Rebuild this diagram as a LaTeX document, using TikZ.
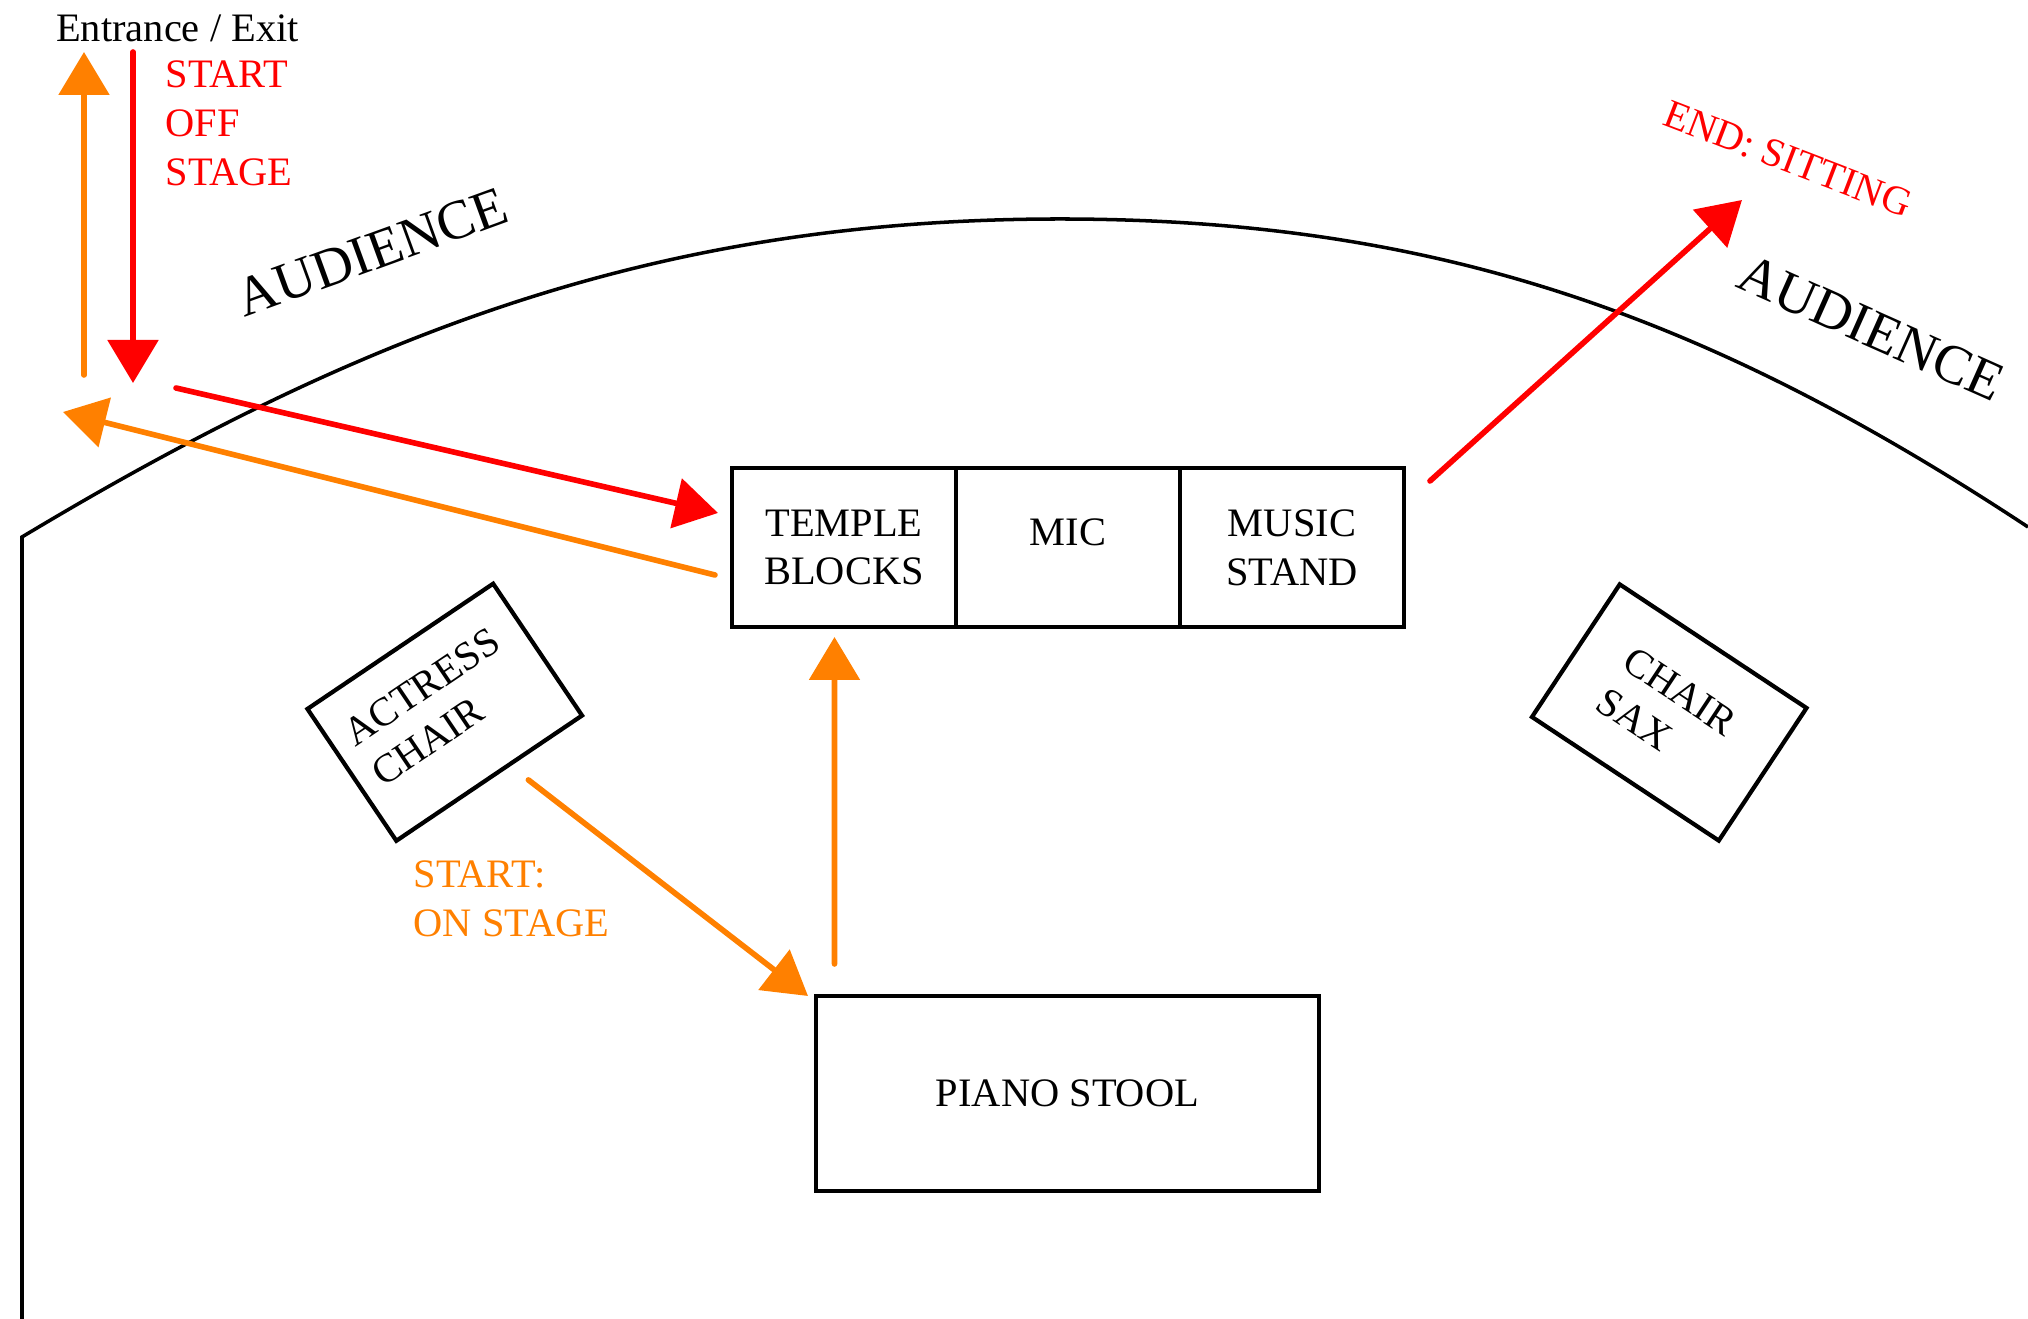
\documentclass[tikz,border=0pt]{standalone}
\usepackage{fontspec}
\setmainfont{Liberation Serif}
\usetikzlibrary{arrows.meta,positioning}
\definecolor{exitred}{RGB}{255,0,0}
\definecolor{stageorange}{RGB}{255,128,0}

\begin{document}
\begin{tikzpicture}[
  txt/.style={font=\fontsize{11.5}{13.9}\selectfont, inner sep=0pt},
  bigtxt/.style={font=\fontsize{15.8}{18}\selectfont, inner sep=0pt},
  stagebox/.style={txt, draw, line width=1.2pt, outer sep=0pt, minimum width=2.24cm, minimum height=1.59cm, align=center},
  chairbox/.style={draw, line width=1.2pt, minimum width=2.24cm, minimum height=1.59cm},
  redarrow/.style={exitred, line width=1.6pt, line cap=round, -{Triangle[length=0.43cm,width=0.5cm]}},
  orangearrow/.style={stageorange, line width=1.6pt, line cap=round, -{Triangle[length=0.43cm,width=0.5cm]}}
]
\useasboundingbox (0,0) rectangle (20.28,13.19);

% stage edge
\draw[line width=1pt] (0.22,-0.1) -- (0.22,7.82)
  .. controls (3.65,9.88) and (6.60,11.00) .. (10.60,11.00)
  .. controls (14.40,11.00) and (17.11,10.01) .. (20.28,7.92);

\node[bigtxt, rotate=20] (audleft) at (3.72,10.67) {AUDIENCE};
\node[bigtxt, rotate=-24] (audright) at (18.71,9.91) {AUDIENCE};

% props
\node[stagebox] (temple) at (8.44,7.715) {TEMPLE\\BLOCKS};
\node[stagebox, right=0pt of temple, text depth=8.6pt] (mic) {MIC};
\node[stagebox, right=0pt of mic] (stand) {MUSIC\\STAND};
\node[stagebox, minimum width=5.03cm, minimum height=1.95cm] (piano) at (10.675,2.255) {PIANO STOOL};

\node[chairbox, rotate=34] (actress) at (4.4475,6.0675) {};
\node[txt, rotate=34, anchor=north west, align=left, inner xsep=0.2cm, inner ysep=0.335cm] (actresslbl) at (actress.north west) {ACTRESS\\CHAIR};
\node[chairbox, rotate=-33.5] (sax) at (16.6925,6.065) {};
\node[txt, rotate=-33.5, anchor=north west, align=left, inner xsep=0.48cm, inner ysep=0.435cm] (saxlbl) at (sax.north west) {CHAIR\\SAX};

% labels
\node[txt] (entrance) at (1.775,12.905) {Entrance / Exit};
\node[txt, exitred, anchor=west, align=left] (offstage) at (1.65,11.96) {START\\OFF\\STAGE};
\node[txt, stageorange, anchor=west, align=left] (onstage) at (4.13,4.20) {START:\\ON STAGE};
\node[txt, exitred, rotate=-21] (sitting) at (17.88,11.60) {END: SITTING};

\coordinate (doorin) at (1.33,12.67);
\coordinate (doorinend) at (1.33,9.36);
\coordinate (dooroutstart) at (0.84,9.44);
\coordinate (doorout) at (0.84,12.67);
\coordinate (walkin) at (1.76,9.31);
\coordinate (walkout) at (0.63,9.07);
\coordinate (exitend) at (17.42,11.19);

% moves
\draw[redarrow] (doorin) -- (doorinend);
\draw[orangearrow] (dooroutstart) -- (doorout);
\draw[redarrow] (walkin) -- ([xshift=-0.14cm,yshift=0.345cm]temple.west);
\draw[orangearrow] ([xshift=-0.17cm,yshift=-0.275cm]temple.west) -- (walkout);
\draw[orangearrow] ([xshift=0.38cm]actress.south) -- ([xshift=-0.08cm]piano.north west);
\draw[orangearrow] ([xshift=0.185cm,yshift=0.32cm]piano.north west) -- ([xshift=-0.095cm,yshift=-0.1cm]temple.south);
\draw[redarrow] ([xshift=0.26cm,yshift=-0.13cm]stand.north east) -- (exitend);
\end{tikzpicture}
\end{document}
